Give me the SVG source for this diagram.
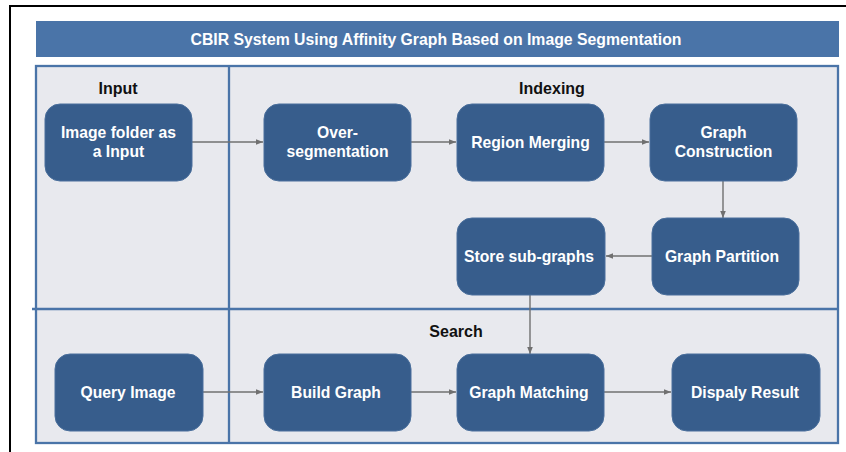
<svg xmlns="http://www.w3.org/2000/svg" width="846" height="452" viewBox="0 0 846 452">
<defs>
<style>
.node rect{fill:#375d8c;stroke:#4a6f9c;stroke-width:1}
.node text{fill:#ffffff;font-family:"Liberation Sans",Arial,sans-serif;font-weight:bold;font-size:15.7px;text-anchor:middle}
.lbl{fill:#111111;font-family:"Liberation Sans",Arial,sans-serif;font-weight:bold;font-size:16px;text-anchor:middle}
.frame{fill:none;stroke:#4a74a8;stroke-width:2.3}
.conn line{stroke:#707070;stroke-width:1.4;marker-end:url(#ah)}
</style>
<marker id="ah" viewBox="0 0 10 10" refX="10" refY="5" markerWidth="7" markerHeight="7" orient="auto" markerUnits="userSpaceOnUse">
<path d="M0,1 L10,5 L0,9 z" fill="#707070"/>
</marker>
</defs>
<rect width="846" height="452" fill="#ffffff"/>
<path d="M10,452 V6 H846" fill="none" stroke="#000000" stroke-width="2"/>
<g id="header">
<rect x="36" y="21" width="803" height="36" fill="#4a74a8"/>
<text x="436" y="44.5" fill="#ffffff" font-family="'Liberation Sans',Arial,sans-serif" font-weight="bold" font-size="15.8" text-anchor="middle">CBIR System Using Affinity Graph Based on Image Segmentation</text>
</g>
<g id="panels">
<rect x="36" y="66" width="802" height="377" fill="#e8e9ee"/>
<rect class="frame" x="36" y="66" width="802" height="377"/>
<line class="frame" x1="229" y1="66" x2="229" y2="443"/>
<line class="frame" x1="32" y1="309" x2="838" y2="309"/>
<text class="lbl" x="118" y="94">Input</text>
<text class="lbl" x="552" y="94">Indexing</text>
<text class="lbl" x="456" y="337">Search</text>
</g>
<g class="conn" id="connectors">
<line x1="192" y1="142" x2="263" y2="142"/>
<line x1="411" y1="142" x2="456" y2="142"/>
<line x1="604" y1="142" x2="649" y2="142"/>
<line x1="723" y1="181" x2="723" y2="218"/>
<line x1="652" y1="256" x2="606" y2="256"/>
<line x1="530" y1="295" x2="530" y2="354"/>
<line x1="203" y1="392" x2="263" y2="392"/>
<line x1="411" y1="392" x2="456" y2="392"/>
<line x1="604" y1="392" x2="671" y2="392"/>
</g>
<g class="node" id="n-imagefolder">
<rect x="45" y="104" width="147" height="77" rx="15"/>
<text x="118.5" y="138">Image folder as</text>
<text x="118.5" y="157">a Input</text>
</g>
<g class="node" id="n-overseg">
<rect x="264" y="104" width="147" height="77" rx="15"/>
<text x="337.5" y="138">Over-</text>
<text x="337.5" y="157">segmentation</text>
</g>
<g class="node" id="n-regionmerging">
<rect x="457" y="104" width="147" height="77" rx="15"/>
<text x="530.5" y="147.5">Region Merging</text>
</g>
<g class="node" id="n-graphconstruction">
<rect x="650" y="104" width="147" height="77" rx="15"/>
<text x="723.5" y="138">Graph</text>
<text x="723.5" y="157">Construction</text>
</g>
<g class="node" id="n-graphpartition">
<rect x="652" y="218" width="147" height="77" rx="15"/>
<text x="722" y="261.5">Graph Partition</text>
</g>
<g class="node" id="n-storesubgraphs">
<rect x="457" y="218" width="148" height="77" rx="15"/>
<text x="529" y="261.5">Store sub-graphs</text>
</g>
<g class="node" id="n-queryimage">
<rect x="55" y="354" width="148" height="77" rx="15"/>
<text x="128" y="397.5">Query Image</text>
</g>
<g class="node" id="n-buildgraph">
<rect x="264" y="354" width="147" height="77" rx="15"/>
<text x="336" y="397.5">Build Graph</text>
</g>
<g class="node" id="n-graphmatching">
<rect x="457" y="354" width="147" height="77" rx="15"/>
<text x="529" y="397.5">Graph Matching</text>
</g>
<g class="node" id="n-displayresult">
<rect x="672" y="354" width="148" height="77" rx="15"/>
<text x="745" y="397.5">Dispaly Result</text>
</g>
</svg>
